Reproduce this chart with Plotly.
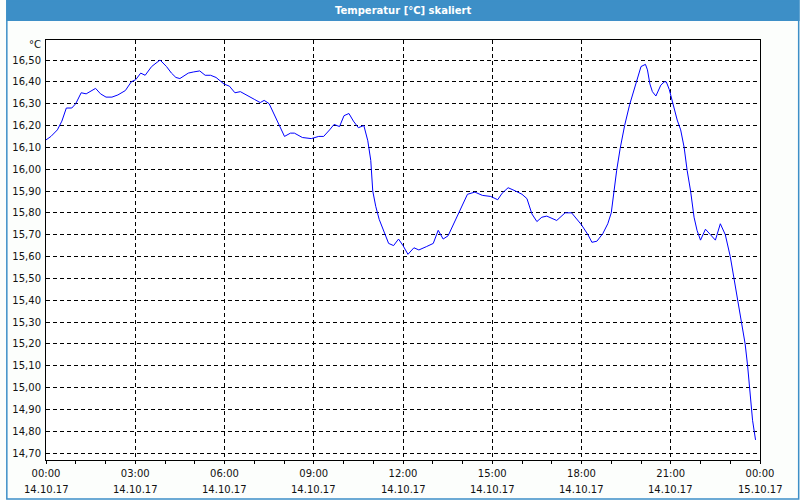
import plotly.graph_objects as go

# ---- data ----
times = ["00:00","00:10","00:23","00:32","00:41","00:52","01:00","01:11","01:21","01:40",
         "01:50","02:01","02:13","02:25","02:40","02:52","03:01","03:11","03:20","03:33",
         "03:50","04:03","04:13","04:22","04:30","04:47","04:57","05:10","05:21","05:32",
         "05:43","05:59","06:10","06:21","06:32","06:43","07:00","07:12","07:20","07:30",
         "07:43","07:53","08:01","08:13","08:21","08:37","08:55","09:10","09:20","09:32",
         "09:41","09:52","10:01","10:11","10:20","10:30","10:41","10:49","10:55","10:59",
         "11:05","11:12","11:23","11:31","11:41","11:51","12:00","12:10","12:22","12:32",
         "12:47","13:01","13:11","13:21","13:31","13:47","13:59","14:10","14:25","14:40",
         "14:57","15:11","15:20","15:32","15:47","16:00","16:10","16:20","16:30","16:40",
         "16:50","17:10","17:27","17:40","18:00","18:13","18:21","18:31","18:43","18:53",
         "19:00","19:05","19:11","19:18","19:27","19:37","19:50","20:00","20:09","20:13",
         "20:18","20:23","20:30","20:40","20:47","20:51","20:57","21:03","21:10","21:13",
         "21:20","21:27","21:33","21:40","21:47","21:53","22:00","22:10","22:20","22:30",
         "22:40","22:50","23:00","23:08","23:15","23:23","23:30","23:35","23:40","23:45",
         "23:51"]
temps = [16.134,16.15,16.18,16.22,16.28,16.28,16.30,16.35,16.345,16.37,
         16.345,16.33,16.33,16.34,16.36,16.40,16.41,16.44,16.43,16.47,
         16.50,16.47,16.44,16.42,16.415,16.44,16.445,16.45,16.43,16.43,
         16.42,16.39,16.38,16.35,16.355,16.34,16.32,16.305,16.315,16.30,
         16.24,16.19,16.15,16.165,16.165,16.145,16.14,16.15,16.15,16.18,
         16.205,16.195,16.245,16.255,16.22,16.19,16.20,16.13,16.04,15.90,
         15.83,15.77,15.71,15.66,15.65,15.68,15.65,15.61,15.64,15.63,
         15.645,15.66,15.72,15.68,15.695,15.775,15.835,15.885,15.895,15.88,
         15.875,15.86,15.89,15.915,15.90,15.885,15.865,15.795,15.76,15.78,
         15.785,15.765,15.80,15.80,15.745,15.70,15.665,15.67,15.705,15.75,
         15.80,15.89,15.995,16.095,16.20,16.295,16.40,16.47,16.48,16.455,
         16.39,16.355,16.335,16.385,16.40,16.40,16.365,16.315,16.255,16.225,
         16.18,16.10,15.995,15.90,15.78,15.72,15.675,15.725,15.70,15.675,
         15.75,15.70,15.60,15.49,15.40,15.295,15.20,15.10,14.99,14.85,
         14.76]

tick_times = ["2017-10-14 00:00","2017-10-14 03:00","2017-10-14 06:00","2017-10-14 09:00",
              "2017-10-14 12:00","2017-10-14 15:00","2017-10-14 18:00","2017-10-14 21:00",
              "2017-10-15 00:00"]
tick_hours = ["00:00","03:00","06:00","09:00","12:00","15:00","18:00","21:00","00:00"]
tick_dates = ["14.10.17","14.10.17","14.10.17","14.10.17","14.10.17","14.10.17",
              "14.10.17","14.10.17","15.10.17"]
y_ticks = [14.7,14.8,14.9,15.0,15.1,15.2,15.3,15.4,15.5,15.6,15.7,15.8,15.9,
           16.0,16.1,16.2,16.3,16.4,16.5]

title = "Temperatur [°C] skaliert"
unit = "°C"

# ---- figure ----
x = ["2017-10-14 " + t for t in times]
FONT = "Tahoma, 'DejaVu Sans', sans-serif"
BLUE = "#3D8FC7"

fig = go.Figure()
fig.add_trace(go.Scatter(x=x, y=temps, mode="lines",
                         line=dict(color="#0000FF", width=1), hoverinfo="skip"))

W, H = 800, 500
ml, mr, mt, mb = 40, 40, 40, 40
pw, ph = W - ml - mr, H - mt - mb

def px2paper_x(p):
    return (p - ml) / pw

def px2paper_y(p):
    return 1 - (p - mt) / ph

fig.update_layout(
    width=W, height=H,
    margin=dict(l=ml, r=mr, t=mt, b=mb),
    paper_bgcolor="#FCFEFC", plot_bgcolor="#FFFFFF",
    separators=",.",
    showlegend=False,
    font=dict(family=FONT, size=10, color="#111111"),
)
fig.update_xaxes(
    range=["2017-10-14 00:00", "2017-10-15 00:00"],
    tickvals=tick_times, ticktext=tick_hours,
    ticks="outside", ticklen=3, tickcolor="black",
    showline=True, linecolor="black", linewidth=1, mirror=True,
    showgrid=True, gridcolor="black", gridwidth=1, griddash="4px,3px",
    minor=dict(dtick=3600000, ticks="outside", ticklen=3, tickcolor="black", showgrid=False),
    ticklabelstandoff=1,
    zeroline=False,
)
fig.update_yaxes(
    range=[14.668, 16.5916],
    tickvals=y_ticks, tickformat=".2f",
    ticks="", showline=True, linecolor="black", linewidth=1, mirror=True,
    showgrid=True, gridcolor="black", gridwidth=1, griddash="4px,3px",
    ticklabelstandoff=2,
    zeroline=False,
)

# window frame + title bar
fig.add_shape(type="rect", xref="paper", yref="paper",
              x0=px2paper_x(0), x1=px2paper_x(800), y0=px2paper_y(21), y1=px2paper_y(0),
              fillcolor=BLUE, line=dict(width=0), layer="above")
fig.add_shape(type="rect", xref="paper", yref="paper",
              x0=px2paper_x(0.5), x1=px2paper_x(799), y0=px2paper_y(499), y1=px2paper_y(0.5),
              fillcolor="rgba(0,0,0,0)", line=dict(color=BLUE, width=1.5), layer="above")
fig.add_annotation(xref="paper", yref="paper", x=0.5, y=px2paper_y(10),
                   text="<b>" + title + "</b>", showarrow=False,
                   font=dict(family=FONT, size=10, color="white"),
                   xanchor="center", yanchor="middle")
fig.add_annotation(xref="paper", yref="paper", x=px2paper_x(37), y=px2paper_y(45),
                   text=unit, showarrow=False, xanchor="right", yanchor="middle",
                   font=dict(family=FONT, size=10, color="#111111"))
for tv, d in zip(tick_times, tick_dates):
    fig.add_annotation(xref="x", yref="paper", x=tv, y=px2paper_y(489),
                       text=d, showarrow=False, xanchor="center", yanchor="middle",
                       font=dict(family=FONT, size=10, color="#111111"))

fig.write_html("out.html")
